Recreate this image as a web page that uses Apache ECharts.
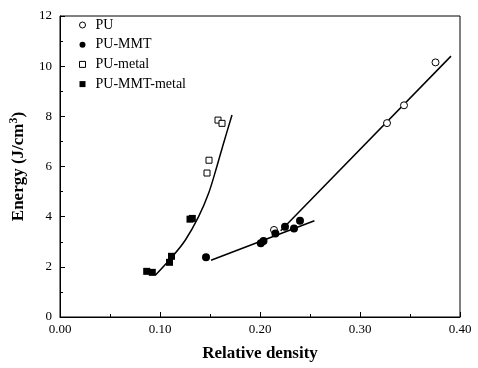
<!DOCTYPE html>
<html>
<head>
<meta charset="utf-8">
<script src="https://cdn.jsdelivr.net/npm/echarts@6/dist/echarts.min.js"></script>
<style>
html, body { margin: 0; padding: 0; background: #fff; }
#main { width: 478px; height: 368px; }
</style>
</head>
<body>
<div id="main"></div>
<script>
// measured points [relative density, energy]
var puData = [[0.214, 3.47], [0.327, 7.73], [0.344, 8.44], [0.3755, 10.15]];
var puMmtData = [[0.146, 2.38], [0.2008, 2.94], [0.2035, 3.03], [0.2154, 3.33], [0.225, 3.6], [0.234, 3.53], [0.240, 3.84]];
var puMetalData = [[0.158, 7.85], [0.162, 7.72], [0.149, 6.25], [0.147, 5.74]];
var puMmtMetalData = [[0.0867, 1.82], [0.0923, 1.78], [0.1095, 2.18], [0.1115, 2.42], [0.130, 3.9], [0.1323, 3.93]];

// fitted lines
var puFit = [[0.2207, 3.44], [0.391, 10.4]];
var puMmtFit = [[0.151, 2.26], [0.2544, 3.84]];
var metalFit = [[0.0953, 1.66], [0.1122, 2.40], [0.1254, 3.07], [0.1386, 4.00], [0.1486, 4.93], [0.1568, 5.99], [0.1635, 6.92], [0.172, 8.05]];

var seriesNames = ['PU', 'PU-MMT', 'PU-metal', 'PU-MMT-metal'];

var chart = echarts.init(document.getElementById('main'));

function fitLine(data) {
    return {
        type: 'line',
        data: data,
        showSymbol: false,
        smooth: data.length > 2 ? 0.3 : false,
        lineStyle: { color: '#000', width: 1.5 },
        silent: true,
        z: 1
    };
}

var font = 'Liberation Serif';

var option = {
    animation: false,
    grid: { left: 57, right: 18, top: 16, bottom: 51, show: true, borderColor: '#000', borderWidth: 1 },
    legend: {
        data: seriesNames,
        orient: 'vertical',
        left: 74,
        top: 13,
        itemWidth: 6,
        itemHeight: 6,
        itemGap: 5.7,
        itemStyle: { borderWidth: 1 },
        textStyle: { fontFamily: font, fontSize: 14, color: '#000', padding: [0, 0, 0, 5] }
    },
    xAxis: {
        type: 'value',
        min: 0,
        max: 0.4,
        interval: 0.1,
        name: 'Relative density',
        nameLocation: 'middle',
        nameGap: 28,
        nameTextStyle: { fontFamily: font, fontSize: 17, fontWeight: 'bold', color: '#000' },
        axisLine: { lineStyle: { color: '#000', width: 1 } },
        axisTick: { inside: true, length: 5, lineStyle: { color: '#000' } },
        minorTick: { show: true, splitNumber: 2, length: 3, lineStyle: { color: '#000' } },
        splitLine: { show: false },
        axisLabel: {
            fontFamily: font, fontSize: 13, color: '#000', margin: 6,
            formatter: function (v) { return v.toFixed(2); }
        }
    },
    yAxis: {
        type: 'value',
        min: 0,
        max: 12,
        interval: 2,
        name: '{a|Energy (J/cm}{s|3}{a|)}',
        nameLocation: 'middle',
        nameGap: 30,
        nameRotate: 90,
        nameTextStyle: {
            rich: {
                a: { fontFamily: font, fontSize: 17, fontWeight: 'bold', color: '#000', lineHeight: 22 },
                s: { fontFamily: font, fontSize: 12, fontWeight: 'bold', color: '#000', verticalAlign: 'top', lineHeight: 22, padding: [0, 0, 8, 0] }
            }
        },
        axisLine: { show: true, lineStyle: { color: '#000', width: 1 } },
        axisTick: { show: true, inside: true, length: 5, lineStyle: { color: '#000' } },
        minorTick: { show: true, splitNumber: 2, length: 3, lineStyle: { color: '#000' } },
        splitLine: { show: false },
        axisLabel: { fontFamily: font, fontSize: 13, color: '#000', margin: 8 }
    },
    series: [
        {
            name: 'PU', type: 'scatter', data: puData, symbol: 'circle', symbolSize: 7,
            itemStyle: { color: '#fff', borderColor: '#000', borderWidth: 1, opacity: 1 }, z: 3
        },
        {
            name: 'PU-MMT', type: 'scatter', data: puMmtData, symbol: 'circle', symbolSize: 8,
            itemStyle: { color: '#000', opacity: 1 }, z: 3
        },
        {
            name: 'PU-metal', type: 'scatter', data: puMetalData, symbol: 'rect', symbolSize: 6,
            itemStyle: { color: '#fff', borderColor: '#000', borderWidth: 1, opacity: 1 }, z: 3
        },
        {
            name: 'PU-MMT-metal', type: 'scatter', data: puMmtMetalData, symbol: 'rect', symbolSize: 7,
            itemStyle: { color: '#000', opacity: 1 }, z: 3
        },
        fitLine(puFit),
        fitLine(puMmtFit),
        fitLine(metalFit)
    ]
};

chart.setOption(option);
</script>
</body>
</html>
